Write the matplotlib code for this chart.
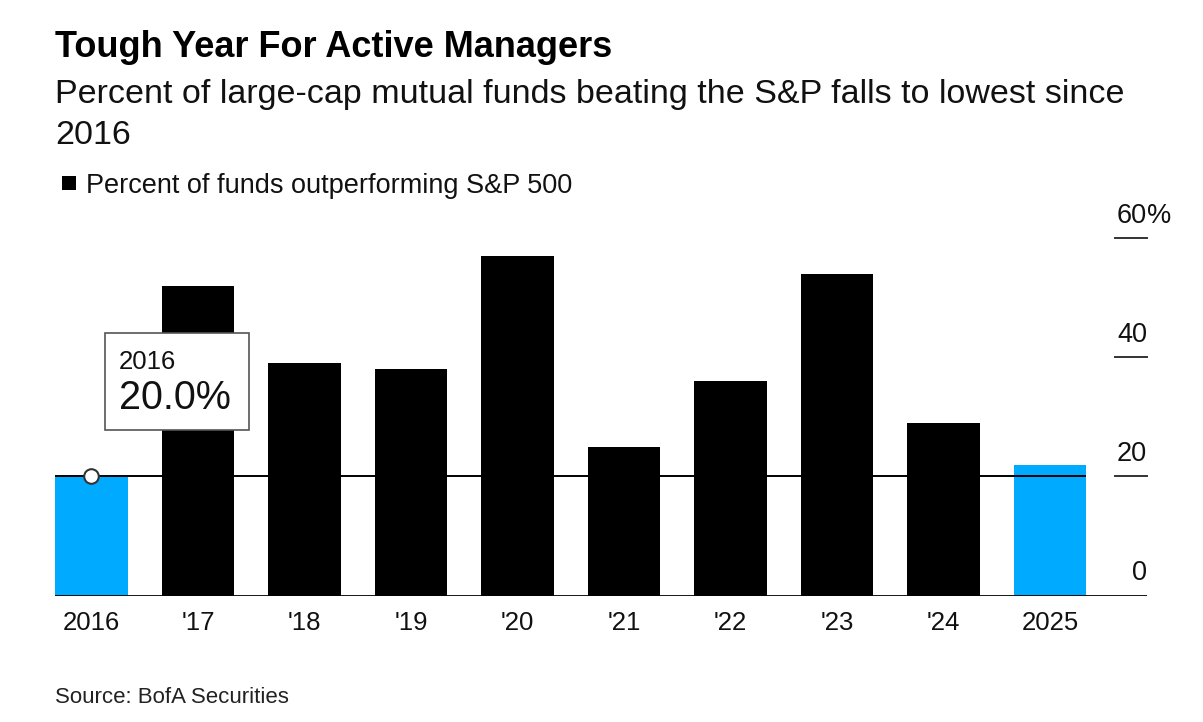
import matplotlib
matplotlib.use("Agg")
import matplotlib.pyplot as plt
from matplotlib.patches import Rectangle
from matplotlib.transforms import offset_copy

plt.rcParams['font.family'] = ['Liberation Sans', 'DejaVu Sans']

years = ["2016", "'17", "'18", "'19", "'20", "'21", "'22", "'23", "'24", "2025"]
values = [20.0, 52, 39, 38, 57, 25, 36, 54, 29, 22]
highlight = [True, False, False, False, False, False, False, False, False, True]
yticks = [0, 20, 40, 60]
ytick_labels = ["0", "20", "40", "60"]

BLUE = '#00AAFF'
W, H = 1203, 722
fig = plt.figure(figsize=(W / 100, H / 100), dpi=100)
fig.patch.set_facecolor('white')

ax_left, ax_right = 55, 1147
ax_bottom, ax_top = 595.5, 238.3
ax = fig.add_axes([ax_left / W, 1 - ax_bottom / H, (ax_right - ax_left) / W, (ax_bottom - ax_top) / H])

bw = 0.685
x = list(range(len(years)))
colors = [BLUE if h else 'black' for h in highlight]
ax.bar(x, values, width=bw, color=colors, zorder=2)
ax.set_ylim(0, 60)
ax.set_xlim(-bw / 2, 9 + (1147 - 1050) / 106.5)

for s in ax.spines.values():
    s.set_visible(False)
ax.set_yticks([])
ax.set_xticks(x)
ax.set_xticklabels(years, fontsize=18.5, color='#111')
ax.tick_params(axis='x', length=0, pad=11)

# baseline
ax.axhline(0, color='black', lw=2, zorder=3)
# reference line at 2016 value
ax.hlines(values[0], -bw / 2, 9 + bw / 2, color='black', lw=1.4, zorder=3)

# right-side tick marks and labels
ytr = ax.get_yaxis_transform()
tick_x0 = (1115 - ax_left) / (ax_right - ax_left)
for v, lab in zip(yticks, ytick_labels):
    if v != 0:
        ax.plot([tick_x0, 1.0], [v, v], transform=ytr, color='#333', lw=1.4, zorder=3, clip_on=False)
    tr = offset_copy(ytr, fig=fig, x=0, y=11, units='points')
    ax.text(1.0, v, lab, transform=tr, ha='right', va='baseline', fontsize=19.5, color='#111')
    if v == 60:
        ax.text(1.0, v, "%", transform=tr, ha='left', va='baseline', fontsize=19.5, color='#111')

# annotation
ax.plot(0, values[0], 'o', ms=10.5, mfc='white', mec='#333', mew=1.5, zorder=5, clip_on=False)
ax.add_patch(Rectangle((0.127, 27.8), 1.352, 16.3, facecolor='white', edgecolor='#555', lw=1.2, zorder=6))
ax.text(0.259, 38.0, years[0], fontsize=18.5, ha='left', va='baseline', zorder=7, color='#111')
ax.text(0.259, 31.3, f"{values[0]:.1f}%", fontsize=28.5, ha='left', va='baseline', zorder=7, color='#111')

# titles
def fy(y):
    return 1 - y / H

fig.text(55 / W, fy(57), "Tough Year For Active Managers", fontsize=26, fontweight='bold', ha='left', va='baseline')
fig.text(55 / W, fy(103), "Percent of large-cap mutual funds beating the S&P falls to lowest since", fontsize=24.5, ha='left', va='baseline', color='#111')
fig.text(55 / W, fy(144), "2016", fontsize=24.5, ha='left', va='baseline', color='#111')

fig.patches.append(Rectangle((62 / W, fy(190)), 14 / W, 14 / H, transform=fig.transFigure, facecolor='black', edgecolor='none'))
fig.text(86 / W, fy(193), "Percent of funds outperforming S&P 500", fontsize=19.5, ha='left', va='baseline', color='#111')

fig.text(55 / W, fy(703), "Source: BofA Securities", fontsize=16, ha='left', va='baseline', color='#222')

fig.savefig('out.png', dpi=100)
